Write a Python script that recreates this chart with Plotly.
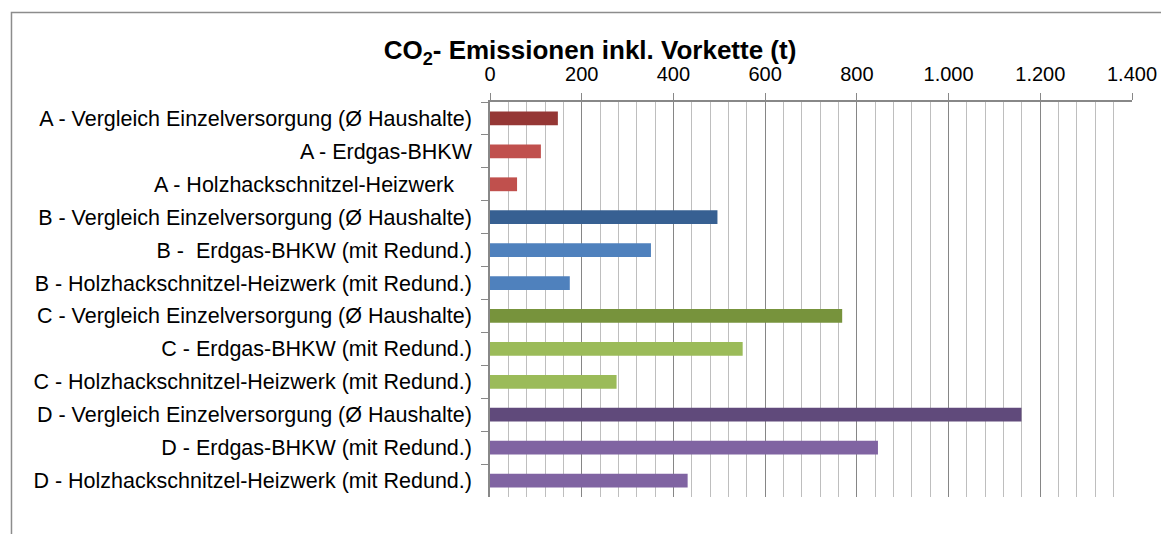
import plotly.graph_objects as go

NB = "\u00a0"
categories = [
    "A - Vergleich Einzelversorgung (Ø Haushalte)",
    "A - Erdgas-BHKW",
    "A - Holzhackschnitzel-Heizwerk" + NB + NB + NB,
    "B - Vergleich Einzelversorgung (Ø Haushalte)",
    "B -" + NB + NB + "Erdgas-BHKW (mit Redund.)",
    "B - Holzhackschnitzel-Heizwerk (mit Redund.)",
    "C - Vergleich Einzelversorgung (Ø Haushalte)",
    "C - Erdgas-BHKW (mit Redund.)",
    "C - Holzhackschnitzel-Heizwerk (mit Redund.)",
    "D - Vergleich Einzelversorgung (Ø Haushalte)",
    "D - Erdgas-BHKW (mit Redund.)",
    "D - Holzhackschnitzel-Heizwerk (mit Redund.)",
]
values = [148, 111, 59, 496, 351, 174, 768, 551, 276, 1159, 846, 431]
colors = ["#953735", "#C0504D", "#C0504D",
          "#376092", "#4F81BD", "#4F81BD",
          "#77933C", "#9BBB59", "#9BBB59",
          "#604A7B", "#8064A2", "#8064A2"]
tick_vals = [0, 200, 400, 600, 800, 1000, 1200, 1400]
tick_text = ["0", "200", "400", "600", "800", "1.000", "1.200", "1.400"]

# page body has an 8px margin; design in screen pixels, convert to figure pixels
OFF = 8
W, H = 1169 - OFF, 534 - OFF
L, R, T, B = 490 - OFF, 33, 102 - OFF, 37
pw, ph = W - L - R, H - T - B

def px_x(p):
    return (p - OFF - L) / pw

def px_y(p):
    return (H - B - (p - OFF)) / ph

fig = go.Figure(go.Bar(
    y=categories, x=values, orientation="h",
    marker=dict(color=colors, line=dict(width=0)),
))

fig.update_layout(
    width=W, height=H,
    margin=dict(l=L, r=R, t=T, b=B),
    paper_bgcolor="white", plot_bgcolor="white",
    bargap=0.58,
    showlegend=False,
    font=dict(family="Liberation Sans, Arial", size=20, color="black"),
    title=dict(
        text="<b>CO<sub>2</sub>- Emissionen inkl. Vorkette (t)</b>",
        x=(590 - OFF) / W, xanchor="center",
        y=1 - (50 - OFF) / H, yanchor="middle",
        font=dict(size=26, family="Liberation Sans, Arial", color="black"),
    ),
    xaxis=dict(
        side="top", range=[0, 1400],
        tickvals=tick_vals, ticktext=tick_text,
        showgrid=True, gridcolor="#868686", gridwidth=1.4,
        zeroline=False,
        showline=True, linecolor="#888888", linewidth=1.5,
        ticks="outside", ticklen=7, tickcolor="#888888", tickwidth=1.3,
        ticklabelstandoff=4,
        tickfont=dict(size=20),
        minor=dict(dtick=40, tick0=0, showgrid=True, gridcolor="#BEBEBE", gridwidth=1.3, ticks=""),
    ),
    yaxis=dict(
        autorange="reversed",
        showline=True, linecolor="#888888", linewidth=1.5,
        ticks="outside", ticklen=7, tickcolor="#888888", tickwidth=1.3,
        tickson="boundaries",
        showgrid=False,
        ticklabelstandoff=12,
        tickfont=dict(size=21.5),
    ),
    shapes=[dict(
        type="path", xref="paper", yref="paper",
        path=f"M {px_x(8.5)} {px_y(560)} L {px_x(8.5)} {px_y(12.5)} L {px_x(1200)} {px_y(12.5)}",
        line=dict(color="#8C8C8C", width=1.5),
    )],
)

fig.write_html("out.html")
